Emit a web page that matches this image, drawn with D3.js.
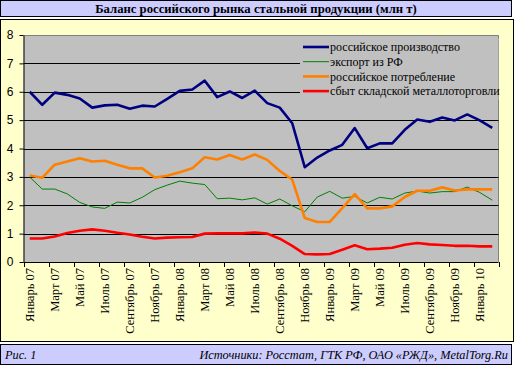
<!DOCTYPE html>
<html><head><meta charset="utf-8">
<script src="https://cdn.jsdelivr.net/npm/d3@7"></script>
<style>body{margin:0;background:#fff}svg{display:block}</style>
</head><body><svg id="c" width="514" height="365"></svg>
<script>
const months = ["Январь 07","Февраль 07","Март 07","Апрель 07","Май 07","Июнь 07","Июль 07","Август 07","Сентябрь 07","Октябрь 07","Ноябрь 07","Декабрь 07",
"Январь 08","Февраль 08","Март 08","Апрель 08","Май 08","Июнь 08","Июль 08","Август 08","Сентябрь 08","Октябрь 08","Ноябрь 08","Декабрь 08",
"Январь 09","Февраль 09","Март 09","Апрель 09","Май 09","Июнь 09","Июль 09","Август 09","Сентябрь 09","Октябрь 09","Ноябрь 09","Декабрь 09",
"Январь 10","Февраль 10"];
const production = [6.0,5.54,5.97,5.89,5.76,5.44,5.52,5.54,5.4,5.51,5.48,5.75,6.03,6.08,6.39,5.81,6.01,5.78,6.04,5.6,5.44,4.89,3.34,3.68,3.93,4.13,4.72,4.01,4.18,4.18,4.66,5.02,4.94,5.09,4.99,5.2,4.99,4.73];
const exportRF = [2.99,2.57,2.57,2.4,2.1,1.94,1.89,2.11,2.08,2.28,2.55,2.71,2.85,2.78,2.73,2.23,2.25,2.19,2.26,2.04,2.22,1.98,1.77,2.29,2.49,2.25,2.31,2.08,2.28,2.22,2.43,2.5,2.43,2.48,2.48,2.64,2.45,2.18];
const consumption = [3.05,2.97,3.43,3.54,3.66,3.54,3.57,3.43,3.3,3.3,2.98,3.04,3.16,3.3,3.69,3.61,3.77,3.61,3.79,3.6,3.21,2.9,1.55,1.41,1.41,1.9,2.39,1.89,1.89,1.96,2.29,2.51,2.51,2.63,2.52,2.56,2.56,2.56];
const warehouse = [0.83,0.83,0.9,1.02,1.1,1.15,1.1,1.03,0.97,0.89,0.83,0.86,0.87,0.88,1.0,1.01,1.01,1.01,1.04,1.0,0.82,0.57,0.28,0.27,0.28,0.43,0.59,0.45,0.47,0.5,0.61,0.67,0.62,0.6,0.57,0.57,0.55,0.55];
const seriesNames = ["российское производство","экспорт из РФ","российское потребление","сбыт складской металлоторговли"];
const seriesColors = ["#000080","#008000","#FF8000","#FF0000"];
const seriesWidths = [2.6,1,2.6,2.6];
const yTicks = [0,1,2,3,4,5,6,7,8];
const titleText = "Баланс российского рынка стальной продукции (млн т)";
const figText = "Рис. 1";
const sourceText = "Источники: Росстат, ГТК РФ, ОАО «РЖД», MetalTorg.Ru";

const svg = d3.select("#c");
// title bar
svg.append("rect").attr("x",0.5).attr("y",0.5).attr("width",511).attr("height",16).attr("fill","#CCCCFF").attr("stroke","#000");
svg.append("text").attr("x",256).attr("y",9).attr("dy","0.35em").attr("text-anchor","middle")
  .attr("font-family","Liberation Serif").attr("font-weight","bold").attr("font-size",12.7).text(titleText);
// chart area
svg.append("rect").attr("x",0.5).attr("y",19.5).attr("width",513).attr("height",322).attr("fill","#FFFFCC").attr("stroke","#000");
// footer
svg.append("rect").attr("x",0.5).attr("y",344.5).attr("width",511).attr("height",20).attr("fill","#CCCCFF").attr("stroke","#000");
svg.append("text").attr("x",5).attr("y",355).attr("dy","0.35em").attr("font-family","Liberation Serif").attr("font-style","italic").attr("font-size",12.3).text(figText);
svg.append("text").attr("x",508).attr("y",355).attr("dy","0.35em").attr("text-anchor","end").attr("font-family","Liberation Serif").attr("font-style","italic").attr("font-size",12.3).text(sourceText);

const L=23.5, R=498.5, T=35, B=262;
const x = d3.scaleBand().domain(months).range([L,R]);
const y = d3.scaleLinear().domain([0,8]).range([B,T]);
const g = svg.append("g");
g.append("rect").attr("x",L).attr("y",T).attr("width",R-L).attr("height",B-T).attr("fill","#C0C0C0");
g.append("path").attr("d",`M${L},${T+0.5}H${R}V${B}`).attr("fill","none").attr("stroke","#808080");

const legX=300, legY=38, legW=R-300, legH=62;

yTicks.filter(v=>v>0&&v<8).forEach(v=>{
  const yy=Math.round(y(v))+0.5;
  const inLeg = yy>legY && yy<legY+legH;
  g.append("line").attr("x1",L).attr("x2",inLeg?legX:R).attr("y1",yy).attr("y2",yy).attr("stroke","#000");
});

const yAxis = d3.axisLeft(y).tickValues(yTicks).tickSize(4).tickSizeOuter(0).tickFormat(d3.format("d"));
const ya = svg.append("g").attr("transform",`translate(${L},0)`).call(yAxis);
ya.selectAll("text").attr("font-family","Liberation Sans").attr("font-size",12).attr("fill","#000").attr("x",-10);
ya.select(".domain").attr("stroke","#000");

const tickPos = d3.range(0,39,2).map(i=>L+i*x.bandwidth());
const xa = svg.append("g");
xa.append("line").attr("x1",L).attr("x2",R).attr("y1",B+0.5).attr("y2",B+0.5).attr("stroke","#000");
tickPos.forEach(p=>xa.append("line").attr("x1",Math.round(p)+0.5).attr("x2",Math.round(p)+0.5).attr("y1",B).attr("y2",B+5).attr("stroke","#000"));
months.forEach((m,i)=>{
  if(i%2) return;
  const cx = x(m)+x.bandwidth()/2;
  xa.append("text").attr("transform",`translate(${cx},${B+6}) rotate(-90)`).attr("dy","0.35em").attr("text-anchor","end")
    .attr("font-family","Liberation Serif").attr("font-size",12.5).text(m);
});

const allSeries=[production,exportRF,consumption,warehouse];
const line = d3.line().x((d,i)=>x(months[i])+x.bandwidth()/2).y(d=>y(d));
allSeries.forEach((s,k)=>{
  g.append("path").datum(s).attr("d",line).attr("fill","none").attr("stroke",seriesColors[k]).attr("stroke-width",seriesWidths[k]).attr("stroke-linejoin","round");
});

const lg = svg.append("g");
lg.append("rect").attr("x",legX).attr("y",legY).attr("width",legW).attr("height",legH).attr("fill","#C0C0C0");
seriesNames.forEach((n,k)=>{
  const yy = 47+k*14.7;
  lg.append("line").attr("x1",303).attr("x2",329).attr("y1",yy).attr("y2",yy).attr("stroke",seriesColors[k]).attr("stroke-width",seriesWidths[k]);
  lg.append("text").attr("x",330).attr("y",yy).attr("dy","0.35em").attr("font-family","Liberation Serif").attr("font-size",12).text(n);
});
</script></body></html>
